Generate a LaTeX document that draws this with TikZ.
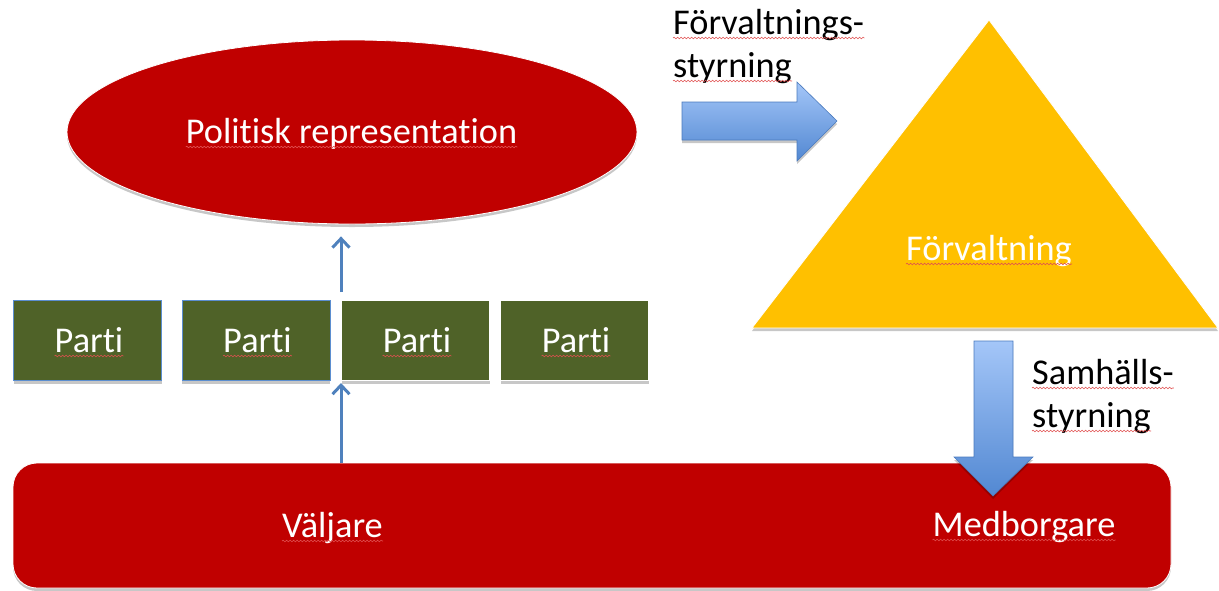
\documentclass[tikz,border=0pt]{standalone}
\usepackage{fontspec}
\setmainfont{Carlito}[Ligatures=NoCommon]
\usetikzlibrary{shapes.geometric,arrows.meta,shadows,decorations.pathmorphing,calc}
\definecolor{bodyred}{HTML}{C00000}
\definecolor{partygreen}{HTML}{4F6228}
\definecolor{adminyellow}{HTML}{FFC000}
\definecolor{linkblue}{HTML}{4F81BD}
\definecolor{edgeblue}{HTML}{5B8ED0}
\definecolor{arrowlight}{HTML}{A4C6F8}
\definecolor{arrowdark}{HTML}{5288D2}
\definecolor{squigred}{HTML}{E05050}
\begin{document}
\begin{tikzpicture}[x=1pt,y=-1pt,
  softshadow/.style={drop shadow={opacity=0.22,shadow xshift=0pt,shadow yshift=-3pt,fill=black}},
  redshape/.style={fill=bodyred,draw=white,line width=0.8pt,softshadow},
  partybox/.style={rectangle,fill=partygreen,draw=#1,line width=1pt,minimum width=148pt,minimum height=80pt,inner sep=0,softshadow},
  txt/.style={inner sep=0,anchor=base,font=\fontsize{36.3}{43}\selectfont,text=white},
  dtxt/.style={inner sep=0,anchor=base west,font=\fontsize{36.3}{43}\selectfont,text=black},
  link/.style={draw=linkblue,line width=3pt,-{Straight Barb[length=9pt,width=17pt,line width=3pt]}},
  blockarrow/.style={top color=arrowlight,bottom color=arrowdark,draw=arrowdark!90!black,line width=0.6pt,softshadow},
  squig/.style={draw=squigred,line width=0.6pt,decorate,decoration={snake,segment length=3.5pt,amplitude=0.8pt}}
]
\useasboundingbox (0,0) rectangle (1219,590);

% elected representatives
\node[ellipse,redshape,minimum width=570pt,minimum height=184pt,inner sep=0] (rep) at (352,132) {};
\node[txt] (reptxt) at (351.5,143) {Politisk representation};

% parties
\node[partybox=edgeblue] (p1) at (87.5,340.5) {};
\node[partybox=edgeblue] (p2) at (256,340.5) {};
\node[partybox=white]    (p3) at (415.5,340.5) {};
\node[partybox=white]    (p4) at (574.5,340.5) {};
\node[txt] (p1t) at (89,352) {Parti};
\node[txt] (p2t) at (257.5,352) {Parti};
\node[txt] (p3t) at (417,352) {Parti};
\node[txt] (p4t) at (576,352) {Parti};

% citizens
\path[redshape,rounded corners=24pt] (13,463) rectangle (1171,588);
\node[inner sep=0,minimum width=1158pt,minimum height=125pt] (people) at (592,525.5) {};
\node[txt] (valj) at (332.5,537) {Väljare};
\node[txt] (medb) at (1024,536) {Medborgare};

% administration
\path[fill=adminyellow,draw=white,line width=0.8pt,softshadow] (752,328) -- (989,20) -- (1218,328) -- cycle;
\coordinate (adm) at (989,250);
\node[txt] (admtxt) at (989,260) {Förvaltning};

% voters -> parties -> representation
\coordinate (gapbot) at (341,381);
\coordinate (gaptop) at (341,292);
\draw[link] (people.north -| gapbot) -- ([yshift=-2pt]gapbot);
\draw[link] (gaptop) -- ([yshift=-12pt]rep.south -| gaptop);

% steering arrows
\path[blockarrow] (682,102) -- (797,102) -- (797,82) -- (837,121) -- (797,161) -- (797,140) -- (682,140) -- cycle;
\path[blockarrow] (974,341) -- (1013,341) -- (1013,457) -- (1033,457) -- (993,496) -- (954,457) -- (974,457) -- cycle;

\node[dtxt] (fs1) at (673,34) {Förvaltnings-};
\node[dtxt] (fs2) at (673,77) {styrning};
\node[dtxt] (ss1) at (1032,384) {Samhälls-};
\node[dtxt] (ss2) at (1032,427) {styrning};

% proofing marks under the words
\foreach \n in {reptxt,p1t,p2t,p3t,p4t,valj,medb,admtxt,fs1,fs2,ss1,ss2}
  \draw[squig] ([yshift=-4pt]\n.base west) -- ([yshift=-4pt]\n.base east);
\end{tikzpicture}
\end{document}
